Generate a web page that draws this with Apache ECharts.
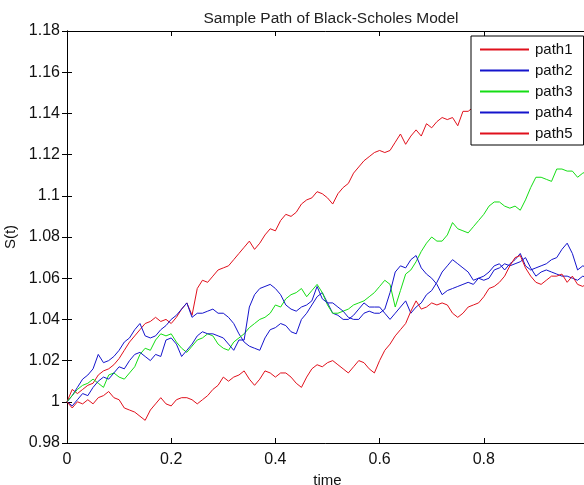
<!DOCTYPE html>
<html>
<head>
<meta charset="utf-8">
<script src="https://cdn.jsdelivr.net/npm/echarts@6/dist/echarts.min.js"></script>
<style>
  html, body { margin: 0; padding: 0; background: #fff; }
  #chart { width: 584px; height: 485px; }
</style>
</head>
<body>
<div id="chart"></div>
<script>
var chart = echarts.init(document.getElementById('chart'));

// sampled at t = 0, 0.01, ..., 1
const path1 = [
  1.000, 1.006, 1.004, 1.006, 1.008, 1.009, 1.013, 1.015, 1.016, 1.018,
  1.021, 1.025, 1.029, 1.032, 1.035, 1.038, 1.039, 1.041, 1.039, 1.040,
  1.038, 1.041, 1.045, 1.048, 1.042, 1.055, 1.059, 1.058, 1.061, 1.064,
  1.065, 1.066, 1.069, 1.072, 1.075, 1.078, 1.074, 1.077, 1.081, 1.084,
  1.083, 1.088, 1.091, 1.090, 1.092, 1.096, 1.098, 1.099, 1.102, 1.101,
  1.099, 1.096, 1.101, 1.104, 1.106, 1.111, 1.114, 1.117, 1.119, 1.121,
  1.122, 1.121, 1.122, 1.126, 1.130, 1.125, 1.129, 1.132, 1.129, 1.135,
  1.133, 1.136, 1.138, 1.137, 1.138, 1.134, 1.141, 1.141, 1.143, 1.145,
  1.144, 1.147, 1.149, 1.148, 1.151, 1.153, 1.152, 1.155, 1.157, 1.156,
  1.159, 1.161, 1.160, 1.162, 1.164, 1.163, 1.166, 1.167, 1.166, 1.168,
  1.170
];
const path2 = [
  1.000, 1.003, 1.007, 1.011, 1.013, 1.016, 1.023, 1.019, 1.020, 1.022,
  1.025, 1.029, 1.031, 1.035, 1.038, 1.032, 1.031, 1.032, 1.035, 1.037,
  1.040, 1.042, 1.045, 1.048, 1.041, 1.043, 1.043, 1.044, 1.045, 1.043,
  1.043, 1.041, 1.038, 1.033, 1.029, 1.027, 1.026, 1.025, 1.031, 1.035,
  1.036, 1.038, 1.037, 1.034, 1.033, 1.040, 1.043, 1.047, 1.051, 1.053,
  1.048, 1.043, 1.042, 1.040, 1.040, 1.042, 1.045, 1.048, 1.046, 1.046,
  1.046, 1.043, 1.040, 1.043, 1.046, 1.049, 1.043, 1.046, 1.048, 1.052,
  1.054, 1.058, 1.063, 1.066, 1.069, 1.067, 1.065, 1.063, 1.059, 1.060,
  1.061, 1.063, 1.066, 1.067, 1.064, 1.067, 1.069, 1.072, 1.066, 1.064,
  1.065, 1.066, 1.067, 1.069, 1.070, 1.074, 1.077, 1.072, 1.064, 1.066,
  1.065
];
const path3 = [
  1.000, 1.003, 1.006, 1.008, 1.009, 1.011, 1.009, 1.007, 1.013, 1.014,
  1.012, 1.011, 1.014, 1.017, 1.023, 1.026, 1.025, 1.030, 1.033, 1.032,
  1.033, 1.029, 1.026, 1.024, 1.027, 1.030, 1.031, 1.033, 1.032, 1.028,
  1.026, 1.025, 1.029, 1.031, 1.033, 1.036, 1.038, 1.040, 1.041, 1.043,
  1.047, 1.046, 1.050, 1.052, 1.053, 1.055, 1.051, 1.054, 1.057, 1.053,
  1.047, 1.043, 1.043, 1.044, 1.045, 1.047, 1.048, 1.049, 1.051, 1.053,
  1.056, 1.059, 1.057, 1.046, 1.054, 1.062, 1.064, 1.068, 1.073, 1.077,
  1.080, 1.078, 1.078, 1.081, 1.087, 1.084, 1.083, 1.082, 1.085, 1.088,
  1.091, 1.095, 1.097, 1.097, 1.095, 1.094, 1.095, 1.093, 1.098, 1.104,
  1.109, 1.109, 1.108, 1.107, 1.113, 1.113, 1.112, 1.112, 1.109, 1.111,
  1.112
];
const path4 = [
  1.000, 0.998, 1.001, 1.004, 1.003, 1.007, 1.010, 1.012, 1.011, 1.014,
  1.017, 1.016, 1.020, 1.023, 1.024, 1.022, 1.020, 1.023, 1.022, 1.030,
  1.031, 1.028, 1.022, 1.025, 1.028, 1.032, 1.034, 1.033, 1.033, 1.032,
  1.031, 1.028, 1.025, 1.030, 1.030, 1.046, 1.052, 1.055, 1.056, 1.057,
  1.055, 1.052, 1.047, 1.045, 1.044, 1.046, 1.047, 1.049, 1.056, 1.050,
  1.048, 1.048, 1.046, 1.044, 1.041, 1.040, 1.040, 1.043, 1.044, 1.043,
  1.043, 1.045, 1.053, 1.063, 1.066, 1.065, 1.069, 1.071, 1.065, 1.062,
  1.060, 1.057, 1.052, 1.054, 1.055, 1.056, 1.057, 1.058, 1.057, 1.060,
  1.059, 1.060, 1.064, 1.065, 1.067, 1.066, 1.067, 1.068, 1.070, 1.065,
  1.061, 1.063, 1.064, 1.063, 1.062, 1.061, 1.061, 1.060, 1.059, 1.061,
  1.060
];
const path5 = [
  1.000, 0.997, 1.000, 0.999, 1.001, 0.999, 1.002, 1.003, 1.005, 1.002,
  1.001, 0.997, 0.996, 0.995, 0.993, 0.991, 0.996, 0.999, 1.002, 0.999,
  0.998, 1.001, 1.002, 1.002, 1.001, 0.999, 1.001, 1.003, 1.006, 1.008,
  1.012, 1.010, 1.012, 1.013, 1.015, 1.011, 1.008, 1.011, 1.015, 1.014,
  1.012, 1.014, 1.014, 1.012, 1.009, 1.007, 1.012, 1.016, 1.018, 1.017,
  1.019, 1.020, 1.018, 1.016, 1.014, 1.017, 1.020, 1.019, 1.016, 1.014,
  1.020, 1.025, 1.028, 1.032, 1.035, 1.038, 1.044, 1.049, 1.045, 1.046,
  1.048, 1.047, 1.048, 1.047, 1.043, 1.041, 1.043, 1.046, 1.047, 1.048,
  1.051, 1.055, 1.056, 1.058, 1.061, 1.066, 1.070, 1.071, 1.065, 1.061,
  1.058, 1.057, 1.059, 1.061, 1.061, 1.062, 1.058, 1.061, 1.057, 1.056,
  1.058
];
const names = ['path1', 'path2', 'path3', 'path4', 'path5'];
const paths = [path1, path2, path3, path4, path5];
const colors = ['#e0101c', '#1414cc', '#14dd14', '#1414cc', '#e0101c'];
const times = path1.map(function (_, i) { return i / 100; });

const font = "'Liberation Sans', Arial, sans-serif";

var option = {
  animation: false,
  backgroundColor: '#fff',
  title: {
    text: 'Sample Path of Black-Scholes Model',
    left: 326,
    textAlign: 'center',
    top: 6,
    textStyle: { fontFamily: font, fontSize: 15.5, fontWeight: 'normal', color: '#222' }
  },
  legend: {
    orient: 'vertical',
    left: 471,
    top: 36,
    data: names,
    icon: 'rect',
    itemWidth: 49,
    itemHeight: 2,
    itemGap: 6,
    padding: [6, 11, 4, 9],
    backgroundColor: '#fff',
    borderColor: '#000',
    borderWidth: 1,
    borderRadius: 0,
    textStyle: { fontFamily: font, fontSize: 15, color: '#111', padding: [0, 0, 0, 1] }
  },
  grid: { left: 67, top: 31, width: 521, height: 412, containLabel: false, outerBoundsMode: 'none' },
  xAxis: [
    {
      type: 'value', min: 0, max: 1, interval: 0.2,
      name: 'time', nameLocation: 'middle', nameGap: 25,
      nameTextStyle: { fontFamily: font, fontSize: 15, color: '#111' },
      axisLine: { lineStyle: { color: '#000', width: 1 } },
      axisTick: { inside: true, length: 5, lineStyle: { color: '#000' } },
      axisLabel: { fontFamily: font, fontSize: 16, color: '#111', margin: 9 },
      splitLine: { show: false }
    },
    {
      type: 'value', min: 0, max: 1, interval: 0.2, position: 'top',
      axisLine: { lineStyle: { color: '#000', width: 1 } },
      axisTick: { inside: true, length: 5, lineStyle: { color: '#000' } },
      axisLabel: { show: false },
      splitLine: { show: false }
    }
  ],
  yAxis: [
    {
      type: 'value', min: 0.98, max: 1.18, interval: 0.02,
      name: 'S(t)', nameLocation: 'middle', nameGap: 37,
      nameTextStyle: { fontFamily: font, fontSize: 15, color: '#111' },
      axisLine: { show: true, lineStyle: { color: '#000', width: 1 } },
      axisTick: { show: true, inside: true, length: 5, lineStyle: { color: '#000' } },
      axisLabel: { fontFamily: font, fontSize: 16, color: '#111', margin: 7 },
      splitLine: { show: false }
    },
    {
      type: 'value', min: 0.98, max: 1.18, interval: 0.02, position: 'right',
      axisLine: { show: true, lineStyle: { color: '#000', width: 1 } },
      axisTick: { show: true, inside: true, length: 5, lineStyle: { color: '#000' } },
      axisLabel: { show: false },
      splitLine: { show: false }
    }
  ],
  series: paths.map(function (p, k) {
    return {
      name: names[k],
      type: 'line',
      xAxisIndex: 0,
      yAxisIndex: 0,
      symbol: 'none',
      color: colors[k],
      lineStyle: { width: 1, color: colors[k] },
      data: p.map(function (v, i) { return [times[i], v]; })
    };
  })
};

option && chart.setOption(option);
</script>
</body>
</html>
